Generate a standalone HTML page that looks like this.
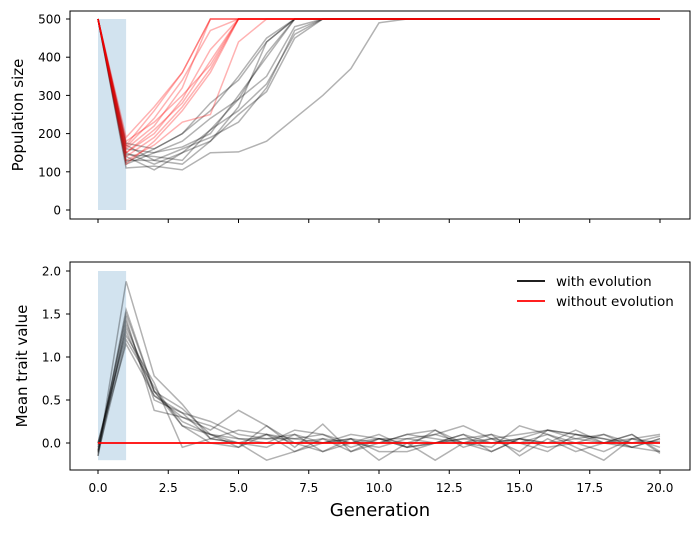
<!DOCTYPE html>
<html><head><meta charset="utf-8"><style>
body{margin:0;background:#fff}
svg{font-family:"DejaVu Sans","Liberation Sans",sans-serif}
</style></head><body>
<svg id="c" width="699" height="530"></svg>
<script>
const generations=[0,1,2,3,4,5,6,7,8,9,10,11,12,13,14,15,16,17,18,19,20];
const popEvo=[
[500,140,105,150,180,270,440,500],
[500,120,150,165,200,300,400,500],
[500,150,120,150,210,290,350,480,500],
[500,175,160,200,260,350,450,500],
[500,130,130,160,190,230,320,470,500],
[500,110,115,105,150,152,180,240,300,370,490,500],
[500,160,150,180,240,290,410,500],
[500,145,140,130,210,260,330,460,500],
[500,125,160,200,280,340,440,500],
[500,170,130,120,180,250,310,450,500]];
const popNoEvo=[
[500,180,230,300,380,500],[500,150,200,290,420,500],[500,170,260,360,500],
[500,140,190,270,370,500],[500,160,220,320,500],[500,130,170,230,250,440,500],
[500,190,270,360,500],[500,150,210,280,390,500],[500,120,180,260,360,500],[500,165,240,340,470,500]];
const traitEvo=[
[-0.15,1.88,0.78,0.45,0.05,0.0,-0.05,0.1,-0.1,0.05,-0.2,0.0,0.1,0.2,0.05,-0.1,0.15,0.1,0.0,-0.05,0.05],
[-0.1,1.55,0.6,0.25,0.1,-0.05,0.2,0.0,0.05,-0.1,0.05,0.0,-0.2,0.0,-0.05,0.2,0.1,0.0,-0.1,0.05,0.1],
[0.0,1.3,0.55,0.3,0.2,0.05,0.0,0.15,0.1,0.0,-0.05,0.05,0.0,0.1,0.0,0.05,0.15,0.05,0.0,0.1,-0.1],
[-0.05,1.45,0.38,0.3,0.15,0.38,0.2,-0.05,0.22,-0.1,0.0,0.1,0.15,-0.05,0.05,0.0,-0.1,0.1,0.05,-0.05,0.05],
[-0.12,1.2,0.65,0.2,0.0,-0.05,0.1,-0.1,0.0,0.1,0.05,-0.05,0.0,0.05,0.1,-0.15,0.05,-0.1,0.0,0.05,-0.05],
[0.0,1.25,0.7,-0.05,0.05,0.15,0.1,0.05,0.0,0.05,0.0,0.1,0.05,0.0,-0.1,0.05,0.0,0.15,0.0,0.1,-0.12],
[-0.1,1.35,0.6,0.4,0.1,0.0,-0.2,-0.1,0.05,0.0,0.1,-0.05,0.15,0.0,0.1,0.0,0.1,-0.05,-0.2,0.05,0.0],
[-0.08,1.5,0.6,0.2,0.1,0.05,0.05,0.1,0.0,0.05,-0.1,-0.1,0.0,0.1,-0.1,0.05,-0.05,0.0,0.1,0.0,0.08],
[-0.02,1.15,0.55,0.35,0.25,0.1,0.05,0.05,0.1,-0.05,0.05,0.05,0.1,0.0,0.05,0.1,0.15,0.1,0.05,0.0,0.02],
[-0.15,1.4,0.5,0.35,0.05,0.0,0.1,0.0,-0.1,0.0,0.05,-0.05,0.0,0.05,0.0,0.05,0.0,0.05,0.1,-0.05,-0.1]];
const traitNoEvo=[0,0,0,0,0,0,0,0,0,0,0,0,0,0,0,0,0,0,0,0,0];
const popTicks=[0,100,200,300,400,500];
const traitTicks=[0.0,0.5,1.0,1.5,2.0];
const xTicks=[0,2.5,5,7.5,10,12.5,15,17.5,20];

const NS="http://www.w3.org/2000/svg",svg=document.getElementById('c');
const X=g=>98+g*28.1;
const YT=v=>210-v*0.382;
const YB=v=>443-v*86;
function mk(t,a,p){const e=document.createElementNS(NS,t);for(const k in a)e.setAttribute(k,a[k]);(p||svg).appendChild(e);return e;}
function txt(s,a){const e=mk('text',a);e.textContent=s;return e;}
function poly(vals,Y,stroke,op,w){const pts=vals.map((v,i)=>X(generations[i])+','+Y(v));
 for(let i=vals.length;i<generations.length;i++)pts.push(X(generations[i])+','+Y(vals[vals.length-1]));
 return mk('polyline',{points:pts.join(' '),fill:'none',stroke:stroke,'stroke-opacity':op,'stroke-width':w||1.5});}

// top panel
let s=mk('rect',{x:X(0),y:YT(500),width:X(1)-X(0),height:YT(0)-YT(500),fill:'#d2e3ef'});

popEvo.forEach(v=>{const l=poly(v,YT,'#000',0.3);});
popNoEvo.forEach(v=>{const l=poly(v,YT,'#ff0000',0.3);});
let f=mk('rect',{x:70,y:11,width:620,height:208,fill:'none',stroke:'#000','stroke-width':1});

popTicks.forEach(t=>{mk('line',{x1:66,x2:70,y1:YT(t),y2:YT(t),stroke:'#000'});const e=txt(t,{x:61,y:YT(t)+4.5,'text-anchor':'end','font-size':12});});
xTicks.forEach(t=>mk('line',{x1:X(t),x2:X(t),y1:219,y2:223,stroke:'#000'}));
let yl=txt('Population size',{transform:'translate(23,115) rotate(-90)','text-anchor':'middle','font-size':15});


// bottom panel
s=mk('rect',{x:X(0),y:YB(2.0),width:X(1)-X(0),height:YB(-0.2)-YB(2.0),fill:'#d2e3ef'});

traitEvo.forEach(v=>{const l=poly(v,YB,'#000',0.3);});
let r=poly(traitNoEvo,YB,'#ff0000',1,1.8);
f=mk('rect',{x:70,y:262,width:620,height:208,fill:'none',stroke:'#000','stroke-width':1});

traitTicks.forEach(t=>{mk('line',{x1:66,x2:70,y1:YB(t),y2:YB(t),stroke:'#000'});const e=txt(t.toFixed(1),{x:61,y:YB(t)+4.5,'text-anchor':'end','font-size':12});});
xTicks.forEach(t=>{mk('line',{x1:X(t),x2:X(t),y1:470,y2:474,stroke:'#000'});const e=txt(t.toFixed(1),{x:X(t),y:492,'text-anchor':'middle','font-size':12});});
yl=txt('Mean trait value',{transform:'translate(27,366) rotate(-90)','text-anchor':'middle','font-size':15});

const xl=txt('Generation',{x:380,y:516,'text-anchor':'middle','font-size':18});


// legend
const lg=mk('g',{});
mk('line',{x1:517,x2:545,y1:281,y2:281,stroke:'#000','stroke-width':1.8},lg);
mk('line',{x1:517,x2:545,y1:301,y2:301,stroke:'#ff0000','stroke-width':1.8},lg);
let e=mk('text',{x:556,y:286,'font-size':13.5},lg);e.textContent='with evolution';
e=mk('text',{x:556,y:306,'font-size':13.5},lg);e.textContent='without evolution';
</script>
</body></html>
